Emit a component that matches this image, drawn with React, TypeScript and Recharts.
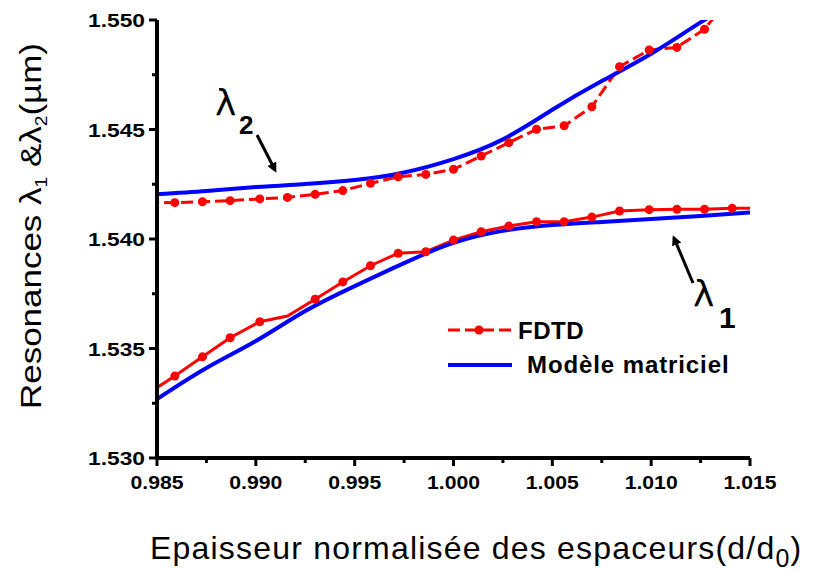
import { LineChart, Line, XAxis, YAxis, Legend } from "recharts";

// abscissa: normalised spacer thickness d/d0
const X_TICKS = [0.985, 0.9875, 0.99, 0.9925, 0.995, 0.9975, 1.0, 1.0025, 1.005, 1.0075, 1.01, 1.0125, 1.015];
const X_TICK_LABELS = ["0.985", "", "0.990", "", "0.995", "", "1.000", "", "1.005", "", "1.010", "", "1.015"];
const Y_TICKS = [1.53, 1.5325, 1.535, 1.5375, 1.54, 1.5425, 1.545, 1.5475, 1.55];
const Y_TICK_LABELS = ["1.530", "", "1.535", "", "1.540", "", "1.545", "", "1.550"];

// FDTD simulation points (first and last fall just outside the axes)
const FDTD_X = [
  0.9845, 0.9859, 0.9873, 0.9887, 0.9902, 0.9916, 0.993, 0.9944, 0.9958, 0.9972, 0.9986, 1.0,
  1.0014, 1.0028, 1.0042, 1.0056, 1.007, 1.0084, 1.0099, 1.0113, 1.0127, 1.0141, 1.0155,
];
const FDTD_L1 = [
  1.53292, 1.53374, 1.53462, 1.53549, 1.53622, 1.53648, 1.53725, 1.53804, 1.53878, 1.53935, 1.53942, 1.53995,
  1.54033, 1.54059, 1.54079, 1.54079, 1.541, 1.54128, 1.54134, 1.54136, 1.54136, 1.5414, 1.5414,
];
const FDTD_L2 = [
  1.54167, 1.54166, 1.5417, 1.54175, 1.54183, 1.5419, 1.54204, 1.54221, 1.54254, 1.54284, 1.54295, 1.54318,
  1.54379, 1.5444, 1.54501, 1.54517, 1.54604, 1.54787, 1.54863, 1.54875, 1.54958, 1.55116, 1.5528,
];
// point of the lower branch drawn without a marker
const FDTD_L1_NO_MARK = 5;

// transfer-matrix model
const MODEL_X = [0.985, 0.9875, 0.99, 0.9925, 0.995, 0.9975, 1.0, 1.0025, 1.005, 1.0075, 1.01, 1.0125, 1.015];
const MODEL_L1 = [1.53269, 1.53411, 1.53534, 1.53671, 1.53785, 1.5389, 1.53982, 1.54037, 1.54064, 1.54078, 1.54091, 1.54105, 1.54121];
const MODEL_L2 = [1.54204, 1.54219, 1.54237, 1.54251, 1.54269, 1.54304, 1.54365, 1.54455, 1.5459, 1.54721, 1.54846, 1.54989, 1.55123];

const fdtd = FDTD_X.map((x, i) => ({ x, l1: FDTD_L1[i], l2: FDTD_L2[i] }));
const model = MODEL_X.map((x, i) => ({ x, l1: MODEL_L1[i], l2: MODEL_L2[i] }));

const RED = "#ff0000";
const BLUE = "#0000ff";
const FONT = "'Liberation Sans', Arial, sans-serif";

const XTick = (props: any) => {
  const { x, y, index } = props;
  const label = X_TICK_LABELS[index];
  return (
    <g>
      <line x1={x} x2={x} y1={y} y2={y + (label ? 8 : 5)} stroke="#000" strokeWidth={3} />
      {label && (
        <text x={x} y={y + 31} textAnchor="middle" fontFamily={FONT} fontWeight="bold" fontSize={19}
          textLength={53} lengthAdjust="spacingAndGlyphs">
          {label}
        </text>
      )}
    </g>
  );
};

const YTick = (props: any) => {
  const { x, y, index } = props;
  const label = Y_TICK_LABELS[index];
  return (
    <g>
      <line x1={x} x2={x - (label ? 8 : 5)} y1={y} y2={y} stroke="#000" strokeWidth={3} />
      {label && (
        <text x={x - 12} y={y + 7} textAnchor="end" fontFamily={FONT} fontWeight="bold" fontSize={19}
          textLength={57} lengthAdjust="spacingAndGlyphs">
          {label}
        </text>
      )}
    </g>
  );
};

const fdtdDot = (props: any) => {
  const { cx, cy, index, dataKey } = props;
  if (dataKey === "l1" && index === FDTD_L1_NO_MARK) return <g key={`d-${dataKey}-${index}`} />;
  return <circle key={`d-${dataKey}-${index}`} cx={cx} cy={cy} r={4.5} fill={RED} />;
};

const LegendBox = () => (
  <svg width={330} height={70}>
    <line x1={8} x2={72} y1={15} y2={15} stroke={RED} strokeWidth={3} strokeDasharray="12 5" />
    <circle cx={39} cy={15} r={4.5} fill={RED} />
    <text x={78} y={24} fontFamily={FONT} fontWeight="bold" fontSize={24} letterSpacing={0.5}>FDTD</text>
    <line x1={8} x2={72} y1={50} y2={50} stroke={BLUE} strokeWidth={4} />
    <text x={87} y={58} fontFamily={FONT} fontWeight="bold" fontSize={24} letterSpacing={0.9}>Modèle matriciel</text>
  </svg>
);

export default function App() {
  return (
    <div style={{ position: "absolute", left: 0, top: 0, background: "#fff" }}>
      <LineChart width={824} height={570} margin={{ top: 20, right: 74, bottom: 82, left: 97 }}>
        <defs>
          <marker id="head" markerWidth={10} markerHeight={10} refX={7} refY={5} orient="auto" markerUnits="userSpaceOnUse">
            <path d="M0,0 L10,5 L0,10 Z" fill="#000" />
          </marker>
        </defs>
        <XAxis
          type="number"
          dataKey="x"
          domain={[0.985, 1.015]}
          ticks={X_TICKS}
          allowDataOverflow
          axisLine={{ stroke: "#000", strokeWidth: 4 }}
          tickLine={false}
          tickSize={0}
          tickMargin={0}
          tick={XTick}
          interval={0}
          height={30}
        />
        <YAxis
          type="number"
          domain={[1.53, 1.55]}
          ticks={Y_TICKS}
          allowDataOverflow
          axisLine={{ stroke: "#000", strokeWidth: 4 }}
          tickLine={false}
          tickSize={0}
          tickMargin={0}
          tick={YTick}
          interval={0}
          width={60}
        />
        <Legend
          layout="horizontal"
          verticalAlign="middle"
          align="center"
          content={LegendBox}
          wrapperStyle={{ left: 440, top: 315, width: 330, height: 70 }}
        />
        <Line data={fdtd} dataKey="l1" name="FDTD" stroke={RED} strokeWidth={3} type="linear"
          dot={fdtdDot} isAnimationActive={false} legendType="none" />
        <Line data={fdtd} dataKey="l2" name="FDTD" stroke={RED} strokeWidth={3} strokeDasharray="12 5"
          type="linear" dot={fdtdDot} isAnimationActive={false} legendType="none" />
        <Line data={model} dataKey="l1" name="Modèle matriciel" stroke={BLUE} strokeWidth={4} type="natural"
          dot={false} isAnimationActive={false} legendType="none" />
        <Line data={model} dataKey="l2" name="Modèle matriciel" stroke={BLUE} strokeWidth={4} type="natural"
          dot={false} isAnimationActive={false} legendType="none" />

        {/* branch annotations */}
        <text x={215} y={115} fontFamily="'DejaVu Sans', sans-serif" fontSize={36}>λ</text>
        <text x={239} y={134} fontFamily={FONT} fontWeight="bold" fontSize={26}>2</text>
        <line x1={257} y1={135} x2={275} y2={170} stroke="#000" strokeWidth={3} markerEnd="url(#head)" />
        <text x={693} y={306} fontFamily="'DejaVu Sans', sans-serif" fontSize={36}>λ</text>
        <text x={719} y={328} fontFamily={FONT} fontWeight="bold" fontSize={30}>1</text>
        <line x1={693} y1={283} x2={674} y2={238} stroke="#000" strokeWidth={3} markerEnd="url(#head)" />

        {/* axis titles */}
        <text transform="translate(41,226) rotate(-90)" textAnchor="middle" fontFamily={FONT} fontSize={29}
          textLength={366} lengthAdjust="spacingAndGlyphs">
          Resonances λ<tspan fontSize={16} dy={6}>1</tspan>
          <tspan dy={-6}> &amp;λ</tspan><tspan fontSize={16} dy={6}>2</tspan>
          <tspan dy={-6}>(µm)</tspan>
        </text>
        <text x={150} y={559} fontFamily={FONT} fontSize={32} letterSpacing={1.2}>
          Epaisseur normalisée des espaceurs(d/d<tspan fontSize={25} dy={8}>0</tspan><tspan dy={-8}>)</tspan>
        </text>
      </LineChart>
    </div>
  );
}
